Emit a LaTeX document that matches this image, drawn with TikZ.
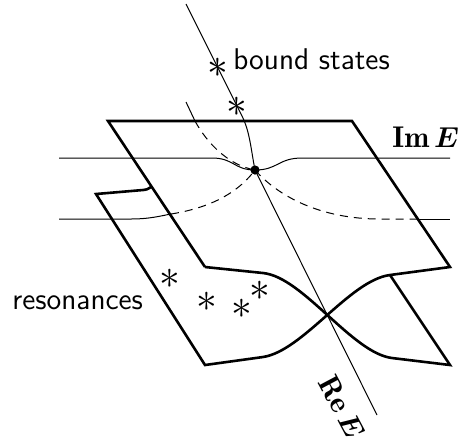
\documentclass[tikz,border=0pt]{standalone}
\usepackage{amsmath}
\usepackage{fontspec}
\usetikzlibrary{positioning}
\tikzset{
  sheet/.style={line width=1.3pt},
  axis/.style={line width=0.5pt},
  hidden/.style={line width=0.5pt,dash pattern=on 4pt off 3pt},
  pole/.style={inner sep=0pt,font=\fontsize{20}{24}\selectfont},
  lab/.style={inner sep=0pt,font=\sffamily\fontsize{15}{18}\selectfont},
  mlab/.style={inner sep=0pt,font=\fontsize{15}{18}\selectfont},
  branch/.style={circle,fill=black,inner sep=0pt,minimum size=4.6pt},
}

\begin{document}
\begin{tikzpicture}[x=0.5pt,y=-0.5pt]
  \useasboundingbox (0,0) rectangle (464,447);
  % the two sheets
  \draw[sheet] (205,267) -- (108,121) -- (352,121) -- (450,267) -- (390,275)
    .. controls (350,280) and (303,351) .. (263,357) -- (205,365) -- (96,194)
    -- (143,190) .. controls (147,189.5) .. (151,187);
  \draw[sheet] (205,267) -- (263,273) .. controls (303,277) and (352,353) .. (392,358)
    -- (450,365) -- (390,275);
  % branch point and axes
  \node[branch] (bp) at (255,170) {};
  \draw[axis] (186,4) -- (242,116) .. controls (250,132) and (251,150) .. (bp.center);
  \draw[axis] (bp.center) -- (377,415);
  \draw[axis] (59,158) -- (212,158) .. controls (234,158) and (234,170) .. (bp.center)
    .. controls (278,170) and (278,158) .. (302,158) -- (450,158);
  \draw[axis] (59,219) -- (130,219) .. controls (150,219) and (160,216) .. (171,214);
  \draw[hidden] (171,214) .. controls (215,207) and (240,190) .. (bp.center);
  \draw[hidden] (bp.center) .. controls (278,196) and (320,219) .. (380,219) -- (418,219);
  \draw[axis] (418,219) -- (450,219);
  \draw[axis] (186,102) -- (195,121);
  \draw[hidden] (195,121) .. controls (207,143) and (228,165) .. (bp.center);
  % poles
  \node[pole] (b1) at (218,68) {$\ast$};
  \node[pole] (b2) at (237,107) {$\ast$};
  \node[pole] (r1) at (170,279) {$\ast$};
  \node[pole] (r2) at (207,302) {$\ast$};
  \node[pole] (r3) at (242,309) {$\ast$};
  \node[pole] (r4) at (260,291) {$\ast$};
  % labels
  \node[lab,anchor=base west] (bs) at (233,69) {bound states};
  \node[lab,anchor=base west] (res) at (12,309) {resonances};
  \node[mlab,anchor=base west] (im) at (392,147) {$\mathbf{Im}\,\boldsymbol{E}$};
  \node[mlab,rotate=-62] (re) at (342,407) {$\mathbf{Re}\,\boldsymbol{E}$};
\end{tikzpicture}
\end{document}
